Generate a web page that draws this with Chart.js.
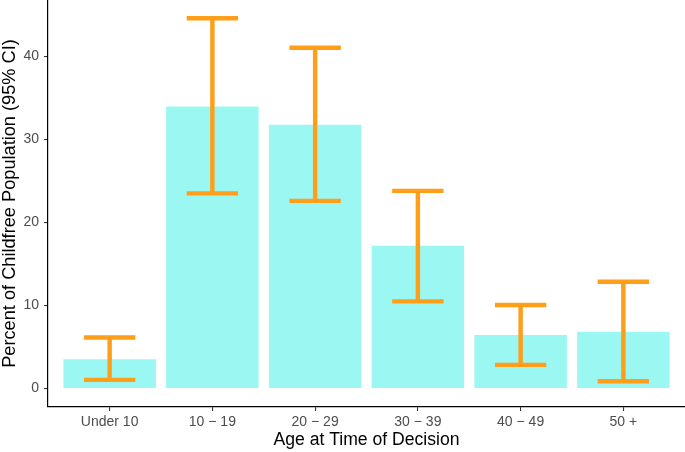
<!DOCTYPE html>
<html><head><meta charset="utf-8">
<script src="https://cdn.jsdelivr.net/npm/chart.js@4"></script>
<style>html,body{margin:0;padding:0;background:#fff}canvas{display:block}</style>
</head><body>
<canvas id="c" width="685" height="452"></canvas>
<script>
const categories = ['Under 10', '10 \u2212 19', '20 \u2212 29', '30 \u2212 39', '40 \u2212 49', '50 +'];
const percent = [3.53, 33.97, 31.76, 17.2, 6.43, 6.83];
const ciLower = [1.04, 23.5, 22.6, 10.5, 2.85, 0.88];
const ciUpper = [6.15, 44.6, 41.05, 23.8, 10.05, 12.86];
const yTicks = [0, 10, 20, 30, 40];

const BAR = '#9BF7F2', ORANGE = 'rgb(255,158,24)';
const FONT = '"Liberation Sans", Arial, sans-serif';

const errorBars = {
  id: 'errorBars',
  afterDatasetsDraw(chart) {
    const {ctx, scales: {x, y}} = chart;
    ctx.save();
    ctx.strokeStyle = ORANGE;
    ctx.lineWidth = 4.4;
    ctx.lineCap = 'butt';
    categories.forEach((c, i) => {
      const cx = x.getPixelForValue(i);
      const xl = x.getPixelForValue(i - 0.25), xr = x.getPixelForValue(i + 0.25);
      const yl = y.getPixelForValue(ciLower[i]), yu = y.getPixelForValue(ciUpper[i]);
      ctx.beginPath();
      ctx.moveTo(cx, yl); ctx.lineTo(cx, yu);
      ctx.moveTo(xl, yl); ctx.lineTo(xr, yl);
      ctx.moveTo(xl, yu); ctx.lineTo(xr, yu);
      ctx.stroke();
    });
    ctx.restore();
  }
};

new Chart(document.getElementById('c'), {
  type: 'bar',
  data: {
    datasets: [{
      data: percent.map((v, i) => ({x: i, y: v})),
      backgroundColor: BAR,
      borderWidth: 0,
      barPercentage: 0.9,
      categoryPercentage: 1.0
    }]
  },
  options: {
    responsive: false,
    animation: false,
    events: [],
    layout: {padding: 0},
    plugins: {legend: {display: false}, tooltip: {enabled: false}},
    scales: {
      x: {
        type: 'linear',
        min: -0.6, max: 5.6,
        offset: false,
        afterBuildTicks: s => { s.ticks = categories.map((c, i) => ({value: i})); },
        afterFit: s => { s.height = 45; s.paddingLeft = 0; s.paddingRight = 0; },
        ticks: {
          autoSkip: false, maxRotation: 0, padding: 3,
          color: '#4D4D4D', font: {family: FONT, size: 14},
          callback: (v) => categories[v]
        },
        grid: {display: true, offset: false, drawOnChartArea: false, drawTicks: true, tickLength: 4, color: '#333333', lineWidth: 1.1},
        border: {display: true, color: '#000', width: 1.2},
        title: {display: true, text: 'Age at Time of Decision', color: '#000', font: {family: FONT, size: 17.6}, padding: {top: 0, bottom: 1}}
      },
      y: {
        type: 'linear',
        min: -2.23, max: 46.8,
        afterBuildTicks: s => { s.ticks = yTicks.map(v => ({value: v})); },
        afterFit: s => { s.width = 48; s.paddingTop = 0; s.paddingBottom = 0; },
        ticks: {padding: 5, color: '#4D4D4D', font: {family: FONT, size: 14}},
        grid: {display: true, drawOnChartArea: false, drawTicks: true, tickLength: 4, color: '#333333', lineWidth: 1.1},
        border: {display: true, color: '#000', width: 1.2},
        title: {display: true, text: 'Percent of Childfree Population (95% CI)', color: '#000', font: {family: FONT, size: 18.2}, padding: {top: -1, bottom: 0}}
      }
    }
  },
  plugins: [errorBars]
});
</script>
</body></html>
